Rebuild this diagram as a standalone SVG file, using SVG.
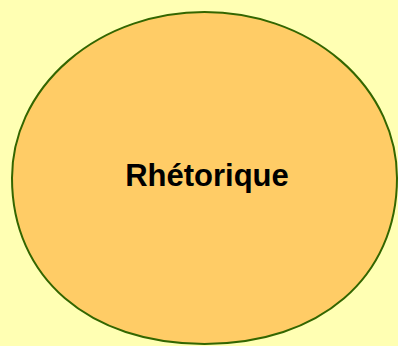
<svg xmlns="http://www.w3.org/2000/svg" width="398" height="346" viewBox="0 0 398 346">
<style>
.bg{fill:#FFFFB3}
.node{fill:#FFCC66;stroke:#336600;stroke-width:2}
.lbl{font-family:"Liberation Sans",Arial,sans-serif;font-weight:bold;font-size:31px;fill:#000;text-anchor:middle}
</style>
<rect class="bg" x="0" y="0" width="398" height="346"/>
<g id="connectors"></g>
<g id="node-rhetorique">
<path class="node" d="M12,178 A192.5,166 0 0 1 397,178 C397,277.6 320,344 204.5,344 C89,344 12,277.6 12,178 Z"/>
<text class="lbl" x="207" y="186">Rhétorique</text>
</g>
</svg>
